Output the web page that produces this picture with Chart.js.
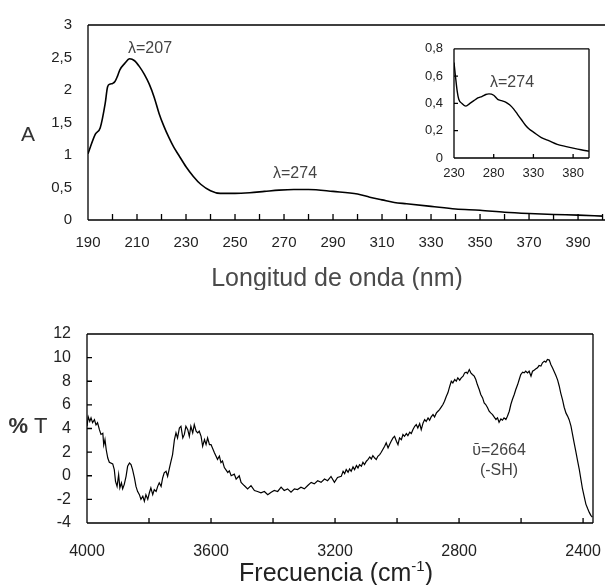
<!DOCTYPE html>
<html>
<head>
<meta charset="utf-8">
<script src="https://cdn.jsdelivr.net/npm/chart.js@4.4.1/dist/chart.umd.min.js"></script>
<style>
  html, body { margin: 0; padding: 0; background: #fff; }
  #wrap { position: relative; width: 605px; height: 585px; overflow: hidden; }
  canvas { position: absolute; }
  #uv { left: 0; top: 0; }
  #inset { left: 400px; top: 30px; }
  #ir { left: 0; top: 290px; }
</style>
</head>
<body>
<div id="wrap">
  <canvas id="uv" width="605" height="290"></canvas>
  <canvas id="inset" width="205" height="170"></canvas>
  <canvas id="ir" width="605" height="295"></canvas>
</div>
<script>
// UV-Vis spectrum (main panel)
const uvWavelength = [190, 193, 195, 197, 198, 199, 200, 201, 202, 203, 205, 207, 209, 211, 213, 215, 217, 219, 221, 223, 225, 227, 230, 233, 236, 240, 244, 250, 256, 262, 268, 274, 280, 290, 300, 305, 310, 315, 320, 330, 340, 350, 360, 370, 380, 390, 400];
const uvAbsorbance = [1.02, 1.32, 1.42, 1.79, 2.05, 2.09, 2.10, 2.13, 2.21, 2.31, 2.41, 2.48, 2.45, 2.36, 2.24, 2.09, 1.89, 1.64, 1.44, 1.27, 1.12, 1.00, 0.82, 0.67, 0.55, 0.45, 0.41, 0.41, 0.42, 0.44, 0.46, 0.47, 0.47, 0.44, 0.40, 0.35, 0.31, 0.27, 0.25, 0.21, 0.17, 0.15, 0.12, 0.10, 0.085, 0.075, 0.06];
const uvXTicks = [190, 200, 210, 220, 230, 240, 250, 260, 270, 280, 290, 300, 310, 320, 330, 340, 350, 360, 370, 380, 390, 400];

// inset zoom 230-400 nm
const insetWavelength = [230, 232, 234, 236, 240, 245, 250, 255, 260, 265, 270, 274, 280, 285, 290, 295, 300, 305, 310, 315, 320, 325, 330, 340, 350, 360, 370, 380, 390, 400];
const insetAbsorbance = [0.70, 0.59, 0.49, 0.43, 0.40, 0.38, 0.40, 0.42, 0.44, 0.45, 0.465, 0.47, 0.46, 0.43, 0.42, 0.41, 0.39, 0.36, 0.32, 0.28, 0.24, 0.21, 0.19, 0.15, 0.125, 0.10, 0.085, 0.072, 0.06, 0.05];
const insetXTicks = [230, 280, 330, 380];

// IR spectrum
const irWavenumber = [
  4000, 3996, 3991, 3987, 3982, 3976, 3971, 3966, 3960, 3955, 3949, 3946, 3942, 3938, 3933, 3928, 3917, 3912, 3908, 3903,
  3898, 3894, 3889, 3885, 3880, 3874, 3869, 3863, 3858, 3853, 3847, 3842, 3837, 3831, 3826, 3820, 3815, 3810, 3804, 3799,
  3794, 3788, 3783, 3777, 3772, 3767, 3761, 3756, 3751, 3745, 3740, 3734, 3729, 3724, 3718, 3713, 3708, 3702, 3697, 3691,
  3686, 3681, 3675, 3670, 3665, 3659, 3654, 3648, 3643, 3638, 3632, 3627, 3621, 3616, 3611, 3605, 3600,
  3589, 3579, 3573, 3568, 3563, 3557, 3546, 3541, 3535, 3525, 3519, 3509, 3503, 3493, 3482, 3471, 3460, 3450, 3439, 3428,
  3417, 3406, 3396, 3385, 3374, 3364, 3353, 3342, 3331, 3321, 3310, 3299, 3288, 3277, 3267, 3256, 3245, 3234, 3224, 3213,
  3202, 3192,
  3180, 3174, 3169, 3164, 3158, 3153, 3148, 3142, 3137, 3131, 3126, 3121, 3115, 3110, 3105, 3099, 3094, 3088, 3083, 3078,
  3072, 3067, 3062, 3056, 3051, 3045, 3040, 3035, 3029, 3024, 3019, 3013, 3008, 3002, 2997, 2992, 2986, 2981, 2976, 2970,
  2965, 2959, 2954, 2949, 2943, 2938, 2933, 2927, 2922, 2916, 2911, 2906, 2900, 2895, 2890, 2884, 2879, 2873, 2868, 2863,
  2857, 2852, 2847, 2841, 2836, 2830, 2825, 2820, 2814, 2809, 2804, 2798, 2793, 2787, 2782, 2777,
  2773, 2767, 2762, 2757, 2751, 2746, 2741, 2735, 2730, 2724, 2719, 2714, 2708, 2703, 2698, 2692, 2687, 2681, 2676, 2671,
  2665, 2660, 2655, 2649, 2644, 2638, 2633, 2628, 2622, 2617, 2611, 2606, 2601, 2595, 2590, 2585, 2579, 2574, 2568, 2563,
  2558, 2552, 2547, 2542, 2536, 2531, 2525, 2520, 2515, 2509, 2504, 2498, 2493, 2488, 2482, 2477, 2472, 2466, 2461, 2455,
  2450, 2445, 2439, 2434, 2429, 2423, 2418, 2412, 2407, 2402, 2396, 2391, 2385, 2380, 2375, 2370
];
const irTransmittance = [
  4.19, 4.98, 4.6, 4.9, 4.5, 4.75, 4.3, 4.5, 3.9, 3.5, 3.6, 2.6, 3.06, 2.2, 1.5, 1.14, 1.0, 0.52, -0.47, -0.9,
  0.1, -1.03, -0.6, -1.1, -0.75, -0.05, 0.8, 1.08, 0.94, 0.52, -0.19, -0.9, -1.32, -1.6, -2.0, -1.74, -2.16, -1.6, -2.0, -1.46,
  -1.03, -1.6, -1.18, -1.32, -0.9, -0.6, -0.9, -0.19, 0.24, 0.38, -0.05, 0.66, 1.23, 1.79, 3.06, 3.63, 3.2, 4.05, 4.19, 3.2,
  3.5, 4.19, 3.9, 3.34, 4.19, 3.63, 4.33, 3.77, 3.63, 3.77, 3.34, 2.5, 3.06, 2.64, 3.2, 2.64, 2.64,
  1.94, 1.39, 1.67, 1.11, 1.25, 0.69, 0.28, 0.42, 0.0, 0.14, -0.28, 0.0, -0.56, -0.83, -1.11, -0.83, -1.25, -1.33, -1.44, -1.33,
  -1.61, -1.39, -1.25, -1.33, -0.97, -1.25, -1.11, -1.39, -1.11, -1.17, -0.97, -1.11, -0.83, -0.56, -0.69, -0.42, -0.56, -0.28, -0.42, -0.06,
  -0.56, -0.14,
  -0.05, 0.38, 0.18, 0.52, 0.3, 0.58, 0.38, 0.75, 0.52, 0.86, 0.66, 0.94, 0.8, 1.14, 0.94, 1.23, 1.37, 1.59, 1.42, 1.71,
  1.5, 1.37, 1.65, 1.79, 1.99, 2.27, 2.5, 2.78, 2.36, 2.64, 2.92, 3.2, 3.34, 2.92, 2.64, 3.2, 3.06, 3.49, 3.34, 3.57,
  3.4, 3.68, 3.57, 3.9, 4.19, 4.33, 4.05, 4.42, 3.9, 4.47, 4.76, 4.6, 4.9, 4.7, 4.98, 5.18, 4.98, 5.32, 5.46, 5.6,
  5.83, 6.03, 6.31, 6.73, 7.02, 7.58, 8.0, 7.86, 8.15, 8.0, 8.29, 8.09, 8.29, 8.43, 8.71, 8.77,
  8.66, 8.99, 8.71, 8.57, 8.43, 8.15, 7.72, 7.3, 6.88, 6.59, 6.17, 6.03, 5.75, 5.46, 5.32, 5.18, 4.98, 4.76, 4.9, 4.53,
  4.81, 4.7, 4.9, 4.76, 5.04, 5.46, 6.03, 6.45, 6.88, 7.3, 7.72, 8.15, 8.57, 8.77, 8.71, 8.85, 8.71, 8.85, 8.43, 8.85,
  8.94, 9.05, 9.14, 9.33, 9.28, 9.56, 9.7, 9.62, 9.84, 9.79, 9.42, 9.1, 8.8, 8.5, 8.1, 7.6, 7.0, 6.4, 5.8, 5.3,
  5.05, 4.75, 4.2, 3.5, 2.8, 2.0, 1.3, 0.5, -0.3, -1.1, -1.8, -2.4, -2.8, -3.1, -3.35, -3.5
];
const irXTicks = [2400, 2600, 2800, 3000, 3200, 3400, 3600, 3800, 4000];

const FONT = "'Liberation Sans', Arial, sans-serif";
Chart.defaults.font.family = FONT;
Chart.defaults.color = '#222';

function toPoints(xs, ys) {
  return xs.map((x, i) => ({ x: x, y: ys[i] }));
}
function commaLabel(v) {
  return String(Number(v.toFixed(1))).replace('.', ',');
}
const setTicks = list => s => { s.ticks = list.map(v => ({ value: v })); };
// keep the plot area where it is: no extra room for edge labels
const fixX = h => s => { s.height = h; s.paddingLeft = 0; s.paddingRight = 0; };

// frame lines + tick marks pointing into the plot
function frameTicks(cfg) {
  return {
    id: 'frameTicks',
    afterDatasetsDraw(chart) {
      const ctx = chart.ctx, a = chart.chartArea;
      const xs = chart.scales.x, ys = chart.scales.y;
      ctx.save();
      ctx.strokeStyle = '#000';
      ctx.lineWidth = cfg.lineWidth;
      ctx.beginPath();
      if (cfg.xTick) xs.ticks.forEach(t => {
        const p = xs.getPixelForValue(t.value);
        ctx.moveTo(p, a.bottom); ctx.lineTo(p, a.bottom - cfg.xTick);
      });
      if (cfg.yTick) ys.ticks.forEach(t => {
        const p = ys.getPixelForValue(t.value);
        ctx.moveTo(a.left, p); ctx.lineTo(a.left + cfg.yTick, p);
      });
      const s = cfg.sides;
      if (s.includes('left')) { ctx.moveTo(a.left, a.top); ctx.lineTo(a.left, a.bottom); }
      if (s.includes('bottom')) { ctx.moveTo(a.left, a.bottom); ctx.lineTo(a.right, a.bottom); }
      if (s.includes('top')) { ctx.moveTo(a.left, a.top); ctx.lineTo(a.right, a.top); }
      if (s.includes('right')) { ctx.moveTo(a.right, a.top); ctx.lineTo(a.right, a.bottom); }
      ctx.stroke();
      ctx.restore();
    }
  };
}

// free text (titles, annotations); parts may have their own font / rise
function texts(items) {
  return {
    id: 'texts',
    afterDraw(chart) {
      const ctx = chart.ctx;
      ctx.save();
      ctx.textBaseline = 'alphabetic';
      ctx.textAlign = 'left';
      items.forEach(it => {
        const parts = it.parts || [{ text: it.text }];
        let total = 0;
        parts.forEach(p => {
          ctx.font = p.font || it.font;
          p.w = ctx.measureText(p.text).width;
          total += p.w;
        });
        let x = it.align === 'center' ? it.x - total / 2 : it.x;
        ctx.fillStyle = it.color || '#333';
        parts.forEach(p => {
          ctx.font = p.font || it.font;
          ctx.fillText(p.text, x, it.y - (p.rise || 0));
          x += p.w;
        });
      });
      ctx.restore();
    }
  };
}

const lineSet = (data, width, smooth) => ({
  data: data,
  showLine: true,
  borderColor: '#000',
  borderWidth: width,
  pointRadius: 0,
  fill: false,
  cubicInterpolationMode: smooth ? 'monotone' : 'default',
  tension: 0
});

const baseOpts = {
  responsive: false,
  animation: false,
  devicePixelRatio: 1,
  plugins: { legend: { display: false }, tooltip: { enabled: false } }
};

// ---------- UV main ----------
new Chart(document.getElementById('uv'), {
  type: 'scatter',
  data: { datasets: [lineSet(toPoints(uvWavelength, uvAbsorbance), 1.6, true)] },
  options: {
    ...baseOpts,
    layout: { padding: { top: 19, left: 0, right: 0, bottom: 0 } },
    scales: {
      x: {
        type: 'linear', min: 190, max: 401,
        grid: { display: false, drawTicks: false },
        border: { display: false },
        afterBuildTicks: setTicks(uvXTicks),
        ticks: {
          autoSkip: false, maxRotation: 0, padding: 14, font: { size: 15 },
          callback: v => (v % 20 === 10 ? String(v) : '')
        },
        afterFit: fixX(70)
      },
      y: {
        min: 0, max: 3,
        grid: { display: false, drawTicks: false },
        border: { display: false },
        ticks: { stepSize: 0.5, padding: 16, font: { size: 15 }, callback: v => commaLabel(v) },
        afterFit: s => { s.width = 88; }
      }
    }
  },
  plugins: [
    frameTicks({ lineWidth: 1.3, sides: ['left', 'bottom', 'top'], xTick: 6, yTick: 0 }),
    texts([
      { text: 'A', x: 28, y: 141, font: '21px ' + FONT, align: 'center', color: '#333' },
      { text: 'Longitud de onda (nm)', x: 337, y: 286, font: '25px ' + FONT, align: 'center', color: '#4a4a4a' },
      { text: 'λ=207', x: 128, y: 53, font: '16px ' + FONT, color: '#444' },
      { text: 'λ=274', x: 273, y: 178, font: '16px ' + FONT, color: '#444' }
    ])
  ]
});

// ---------- inset ----------
new Chart(document.getElementById('inset'), {
  type: 'scatter',
  data: { datasets: [lineSet(toPoints(insetWavelength, insetAbsorbance), 1.4, true)] },
  options: {
    ...baseOpts,
    layout: { padding: { top: 18, left: 0, right: 16, bottom: 0 } },
    scales: {
      x: {
        type: 'linear', min: 230, max: 400,
        grid: { display: false, drawTicks: false },
        border: { display: false },
        afterBuildTicks: setTicks(insetXTicks),
        ticks: { autoSkip: false, maxRotation: 0, padding: 8, font: { size: 13 }, callback: v => String(v) },
        afterFit: fixX(42)
      },
      y: {
        min: 0, max: 0.8,
        grid: { display: false, drawTicks: false },
        border: { display: false },
        ticks: { stepSize: 0.2, padding: 11, font: { size: 13 }, callback: v => commaLabel(v) },
        afterFit: s => { s.width = 54; }
      }
    }
  },
  plugins: [
    frameTicks({ lineWidth: 1.3, sides: ['left', 'bottom', 'top', 'right'], xTick: 4, yTick: 4 }),
    texts([
      { text: 'λ=274', x: 90, y: 57, font: '16px ' + FONT, color: '#444' }
    ])
  ]
});

// ---------- IR ----------
new Chart(document.getElementById('ir'), {
  type: 'scatter',
  data: { datasets: [lineSet(toPoints(irWavenumber, irTransmittance), 1.2, false)] },
  options: {
    ...baseOpts,
    layout: { padding: { top: 44, left: 0, right: 12, bottom: 0 } },
    scales: {
      x: {
        type: 'linear', reverse: true, min: 2368, max: 4000,
        grid: { display: false, drawTicks: false },
        border: { display: false },
        afterBuildTicks: setTicks(irXTicks),
        ticks: {
          autoSkip: false, maxRotation: 0, padding: 19, font: { size: 16 },
          callback: v => (v % 400 === 0 ? String(v) : '')
        },
        afterFit: fixX(62)
      },
      y: {
        min: -4, max: 12,
        grid: { display: false, drawTicks: false },
        border: { display: false },
        ticks: { stepSize: 2, padding: 16, font: { size: 16 } },
        afterFit: s => { s.width = 87; }
      }
    }
  },
  plugins: [
    frameTicks({ lineWidth: 1.3, sides: ['left', 'bottom', 'top', 'right'], xTick: 5, yTick: 5 }),
    texts([
      { parts: [{ text: '%', font: 'bold 22px ' + FONT }, { text: ' T' }],
        x: 28, y: 143, font: '22px ' + FONT, align: 'center', color: '#333' },
      { parts: [{ text: 'Frecuencia (cm' }, { text: '-1', font: '15px ' + FONT, rise: 10 }, { text: ')' }],
        x: 336, y: 291, font: '25px ' + FONT, align: 'center', color: '#222' },
      { text: 'ῡ=2664', x: 499, y: 165, font: '16px ' + FONT, align: 'center', color: '#444' },
      { text: '(-SH)', x: 499, y: 185, font: '16px ' + FONT, align: 'center', color: '#444' }
    ])
  ]
});
</script>
</body>
</html>
